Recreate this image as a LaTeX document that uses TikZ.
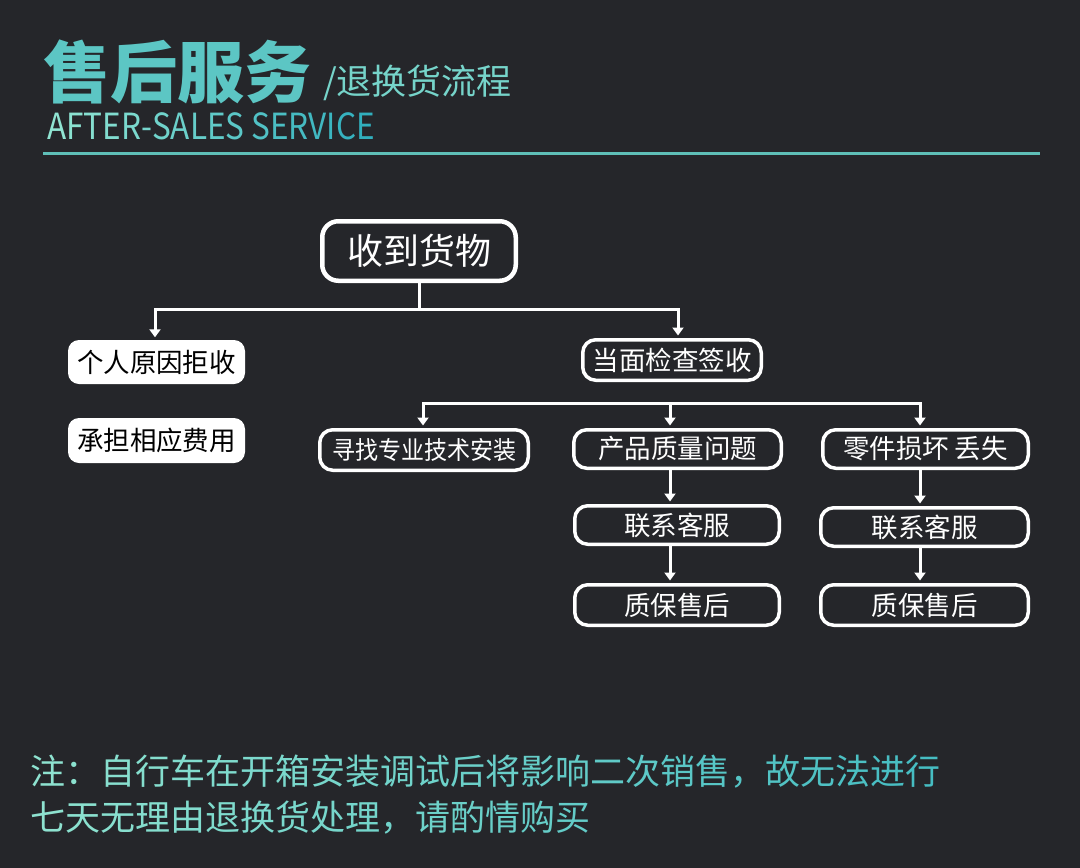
\documentclass[tikz,border=0pt]{standalone}
\usepackage{fontspec}
\newfontfamily\cjk{Noto Sans CJK SC}
\newfontfamily\cjknarrow[FakeStretch=0.875]{Noto Sans CJK SC}
\newfontfamily\cjkcond[FakeStretch=0.92]{Noto Sans CJK SC}
\usetikzlibrary{arrows.meta}
\definecolor{bg}{HTML}{25262A}
\definecolor{tealtitle}{HTML}{5CC6C4}
\definecolor{tealsub}{HTML}{76D4CA}
\definecolor{tealline}{HTML}{5FBFB8}
\definecolor{enL}{RGB}{147,230,211}
\definecolor{enR}{RGB}{46,174,189}
\definecolor{noteL}{RGB}{143,227,208}
\definecolor{noteR}{RGB}{69,188,194}

\makeatletter
\newcount\gradk
\newcommand\gradrun[4]{%
  \@tfor\gch:=#4\do{%
    \pgfmathsetmacro\gp{100-100*(\the\gradk+0.5)/#3}%
    \textcolor{#1!\gp!#2}{\gch}%
    \global\advance\gradk by 1\relax}}
\makeatother

\tikzset{
  darkbox/.style={draw=white, line width=3.5pt, fill=bg, rounded corners=13pt, text=white,
    inner sep=0pt, font=\cjk\fontsize{26.5}{26.5}\selectfont},
  whitebox/.style={fill=white, rounded corners=11pt, text=black, inner sep=0pt,
    font=\cjk\fontsize{26.5}{26.5}\selectfont},
  wire/.style={draw=white, line width=3pt},
  arr/.style={wire, -{Triangle[width=11pt,length=8pt]}, shorten >=2.5pt},
  arrboth/.style={wire, {Triangle[width=11pt,length=8pt]}-{Triangle[width=11pt,length=8pt]}, shorten >=2.5pt, shorten <=2.5pt},
  plaintext/.style={anchor=base west, inner sep=0pt}
}

\begin{document}
\begin{tikzpicture}[x=1pt,y=-1pt]
\fill[bg] (0,0) rectangle (1080,868);
\useasboundingbox (0,0) rectangle (1080,868);

% heading
\node[plaintext, text=tealtitle, font=\cjk\bfseries\fontsize{67}{67}\selectfont] (title) at (43,97) {售后服务};
\node[plaintext, text=tealsub, font=\cjk\fontsize{35}{35}\selectfont] (sub) at (323,94.5) {/退换货流程};
\node[plaintext, font=\cjknarrow\fontsize{36}{36}\selectfont] (en) at (47,139)
  {\global\gradk=0 \gradrun{enL}{enR}{19}{AFTER-SALES}\ \global\advance\gradk by 1 \gradrun{enL}{enR}{19}{SERVICE}};
\coordinate (hl0) at (43,153);
\coordinate (hl1) at (1040,153);
\draw[tealline, line width=3pt] (hl0) -- (hl1);

% nodes
\node[darkbox, line width=4.5pt, rounded corners=16pt, minimum width=193.5pt, minimum height=59.5pt, font=\cjk\fontsize{36}{36}\selectfont] (recv) at (419,251) {收到货物};
\node[darkbox, minimum width=178.5pt, minimum height=40.5pt] (face) at (672,360) {当面检查签收};
\node[whitebox, minimum width=177pt, minimum height=44pt] (pers) at (156.5,362) {个人原因拒收};
\node[whitebox, minimum width=177pt, minimum height=45pt] (cost) at (156.5,440.5) {承担相应费用};
\node[darkbox, minimum width=208.5pt, minimum height=40.5pt, font=\cjkcond\fontsize{25}{25}\selectfont] (find) at (424,450) {寻找专业技术安装};
\node[darkbox, minimum width=207.5pt, minimum height=38.5pt] (qual) at (677.5,449) {产品质量问题};
\node[darkbox, minimum width=205.5pt, minimum height=38.5pt] (part) at (925.5,449) {零件损坏 丢失};
\node[darkbox, minimum width=204.5pt, minimum height=38.5pt] (cs1) at (677,525) {联系客服};
\node[darkbox, minimum width=207.5pt, minimum height=38.5pt] (cs2) at (924.5,527) {联系客服};
\node[darkbox, minimum width=204.5pt, minimum height=40.5pt] (wa1) at (677,605) {质保售后};
\node[darkbox, minimum width=207.5pt, minimum height=40.5pt] (wa2) at (924.5,605) {质保售后};

% connectors
\coordinate (j0) at (155,309);
\coordinate (j1) at (678,309);
\coordinate (j2) at (423,403);
\coordinate (j3) at (670,403);
\coordinate (j4) at (920,403);
\coordinate (cL) at (670,0);
\coordinate (cR) at (920,0);
\draw[wire] (recv.south) -- (recv.south |- j0);
\draw[arrboth] (j0 |- pers.north) -- (j0) -- (j1) -- (j1 |- face.north);
\draw[arrboth] (j2 |- find.north) -- (j2) -- (j4) -- (j4 |- part.north);
\draw[arr] (j3) -- (j3 |- qual.north);
\draw[arr] (qual.south -| cL) -- (cs1.north -| cL);
\draw[arr] (cs1.south -| cL) -- (wa1.north -| cL);
\draw[arr] (part.south -| cR) -- (cs2.north -| cR);
\draw[arr] (cs2.south -| cR) -- (wa2.north -| cR);

% note
\node[plaintext, font=\cjk\fontsize{35}{35}\selectfont] (note1) at (30,784.5)
  {\global\gradk=0 \gradrun{noteL}{noteR}{26}{注：自行车在开箱安装调试后将影响二次销售，故无法进行}};
\node[plaintext, font=\cjk\fontsize{35}{35}\selectfont] (note2) at (30,830.5)
  {\global\gradk=0 \gradrun{noteL}{noteR}{26}{七天无理由退换货处理，请酌情购买}};
\end{tikzpicture}
\end{document}
